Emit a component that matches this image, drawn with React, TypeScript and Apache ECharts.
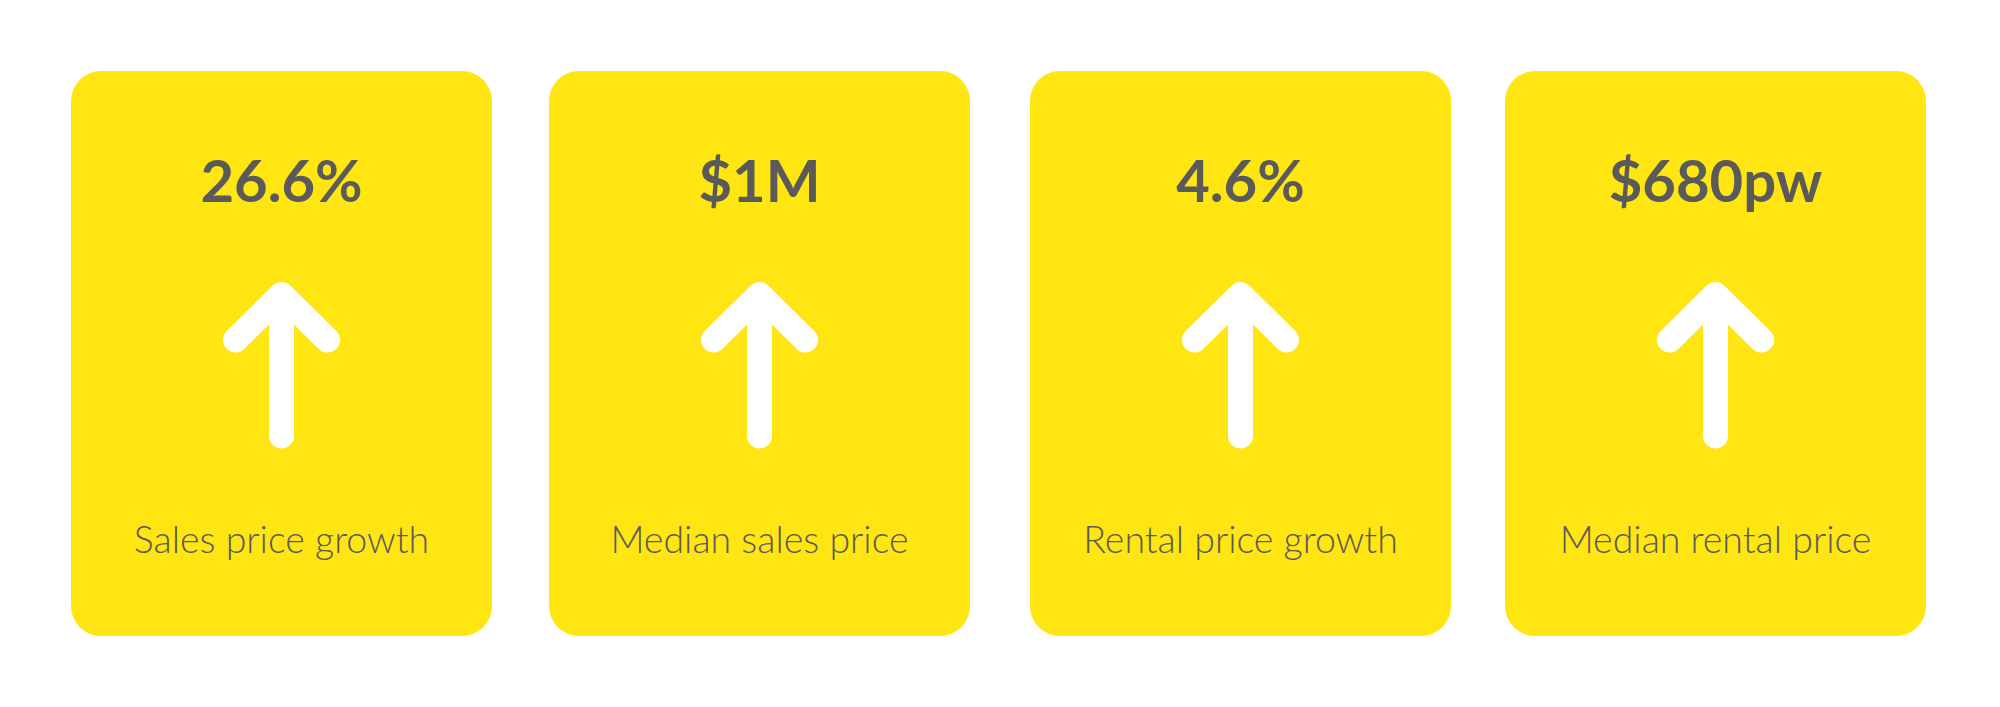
import React, { useEffect, useRef } from "react";
import * as echarts from "echarts";

const values = ["26.6%", "$1M", "4.6%", "$680pw"];
const labels = ["Sales price growth", "Median sales price", "Rental price growth", "Median rental price"];
const cardLefts = [71, 549, 1030, 1505];

const CARD_W = 421;
const CARD_TOP = 71;
const CARD_H = 565;
const YELLOW = "#FFE512";
const TEXT = "#5A5A5A";

export default function App() {
  const ref = useRef<HTMLDivElement>(null);
  useEffect(() => {
    document.body.style.margin = "0";
    const chart = echarts.init(ref.current!, null, { renderer: "svg" });
    const elements: any[] = [];
    values.forEach((v, i) => {
      const x = cardLefts[i];
      const cx = x + CARD_W / 2;
      elements.push({
        type: "rect",
        shape: { x, y: CARD_TOP, width: CARD_W, height: CARD_H, r: [30, 30, 30, 30] },
        style: { fill: YELLOW },
      });
      elements.push({
        type: "text",
        x: cx,
        y: 179.5,
        style: {
          text: v,
          fill: TEXT,
          font: "bold 58px Lato",
          align: "center",
          verticalAlign: "middle",
        },
      });
      elements.push({
        type: "line",
        shape: { x1: cx, y1: 296, x2: cx, y2: 436 },
        style: { stroke: "#FFFFFF", lineWidth: 25, lineCap: "round" },
      });
      elements.push({
        type: "polyline",
        shape: { points: [[cx - 46, 340], [cx, 294.5], [cx + 46, 340]] },
        style: { stroke: "#FFFFFF", lineWidth: 25, lineCap: "round", lineJoin: "round", fill: null },
      });
      elements.push({
        type: "text",
        x: cx,
        y: 538,
        style: {
          text: labels[i],
          fill: TEXT,
          font: "300 37.5px 'Lato Light', Lato",
          align: "center",
          verticalAlign: "middle",
        },
      });
    });
    chart.setOption({
      animation: false,
      backgroundColor: "#FFFFFF",
      graphic: { elements },
    });
    return () => chart.dispose();
  }, []);
  return <div ref={ref} style={{ width: 2000, height: 707 }} />;
}
